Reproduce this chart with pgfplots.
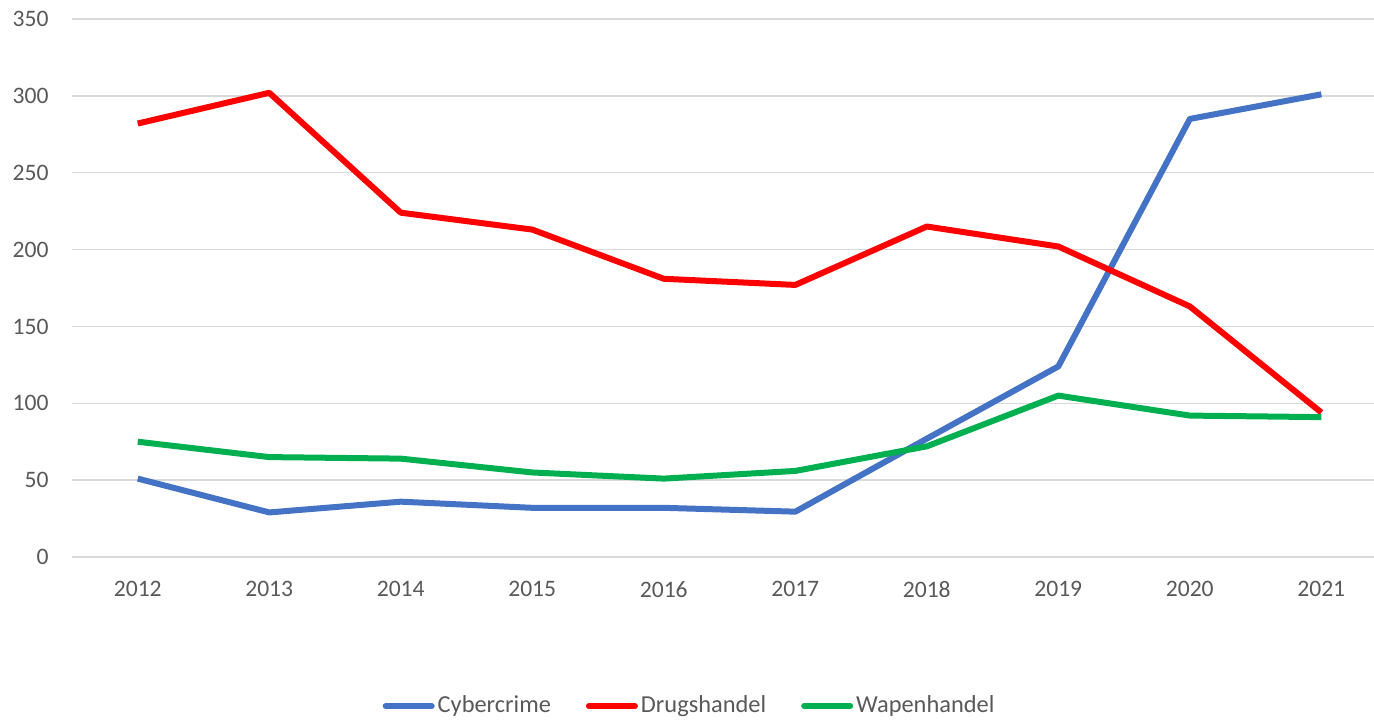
\documentclass[border=0pt]{standalone}
\usepackage{fontspec}
\setmainfont{Carlito}
\usepackage{pgfplots}
\pgfplotsset{compat=1.18}
\definecolor{cblue}{HTML}{4472C4}
\definecolor{cred}{HTML}{FF0000}
\definecolor{cgreen}{HTML}{00B050}
\definecolor{cgrid}{HTML}{D9D9D9}
\definecolor{ctext}{HTML}{595959}
\begin{document}
\fontsize{11.6}{14}\selectfont
\begin{tikzpicture}
\useasboundingbox (0,0) rectangle (687pt,360pt);
\begin{axis}[
  at={(36pt,81.5pt)}, anchor=south west,
  scale only axis, width=651pt, height=269pt,
  xmin=2011.5, xmax=2021.4, ymin=0, ymax=350,
  xtick={2012,...,2021}, ytick={0,50,...,350},
  /pgf/number format/assume math mode=true,
  xticklabel={\pgfmathprintnumber[1000 sep=]{\tick}},
  ymajorgrids, xmajorgrids=false,
  major grid style={color=cgrid, line width=0.75pt},
  axis line style={draw=none},
  major tick style={draw=none},
  tick label style={color=ctext, font=\fontsize{11.8}{14}\selectfont},
  yticklabel style={anchor=east, inner sep=0pt, xshift=-11.5pt},
  xticklabel style={anchor=north, inner sep=0pt, yshift=-12pt},
  clip=false,
  legend columns=-1,
  legend style={at={(0.4747,-0.277)}, anchor=center, draw=none, fill=none,
    font=\fontsize{12.2}{14}\selectfont\color{ctext},
    /tikz/every even column/.append style={column sep=16pt},
    nodes={inner xsep=1.5pt}},
  legend image code/.code={\draw[#1, line width=3pt, line cap=round] (1.5pt,0pt) -- (24.5pt,0pt);},
  every axis plot/.append style={line width=3pt, line join=round},
]
\addplot[cblue] coordinates {(2012,51) (2013,29) (2014,36) (2015,32) (2016,32) (2017,29.5) (2018,77) (2019,124) (2020,285) (2021,301)};
\addlegendentry{Cybercrime}
\addplot[cred] coordinates {(2012,282) (2013,302) (2014,224) (2015,213) (2016,181) (2017,177) (2018,215) (2019,202) (2020,163) (2021,94)};
\addlegendentry{Drugshandel}
\addplot[cgreen] coordinates {(2012,75) (2013,65) (2014,64) (2015,55) (2016,51) (2017,56) (2018,72) (2019,105) (2020,92) (2021,91)};
\addlegendentry{Wapenhandel}
\end{axis}
\end{tikzpicture}
\end{document}
